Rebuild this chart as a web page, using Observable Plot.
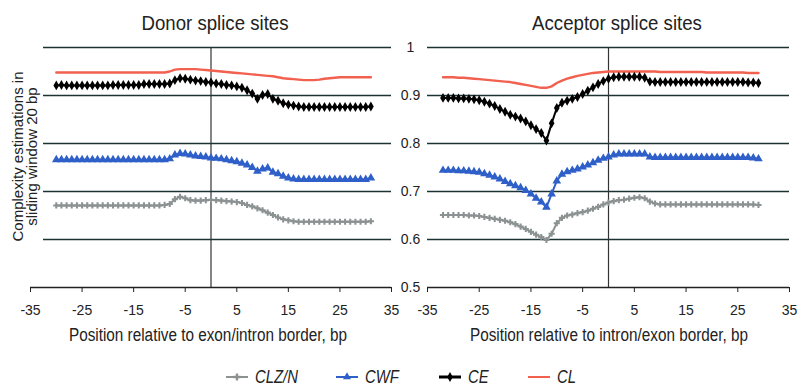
<!DOCTYPE html>
<html>
<head>
<meta charset="utf-8">
<script src="https://cdn.jsdelivr.net/npm/d3@7"></script>
<script src="https://cdn.jsdelivr.net/npm/@observablehq/plot@0.6"></script>
<style>
  html, body { margin: 0; padding: 0; background: #fff; }
  #wrap { position: relative; width: 798px; height: 387px; overflow: hidden; font-family: "Liberation Sans", Arial, sans-serif; color: #222; }
  .abs { position: absolute; }
  .title { font-size: 19.5px; line-height: 20px; text-align: center; width: 300px; transform: scaleX(0.955); white-space: nowrap; }
  .xlab { font-size: 18px; line-height: 20px; text-align: center; width: 360px; transform: scaleX(0.85); white-space: nowrap; }
  .ylab { font-size: 15px; line-height: 13.5px; text-align: center; width: 240px; transform: rotate(-90deg); white-space: nowrap; }
  .leg { line-height: 18px; display: flex; align-items: center; }
  .leg svg { margin-right: 7px; }
  .leg span { display: inline-block; font-size: 17.5px; font-style: italic; transform: scaleX(0.85); transform-origin: left center; }
</style>
</head>
<body>
<div id="wrap">
  <div class="abs title" style="left:65px; top:13px;">Donor splice sites</div>
  <div class="abs title" style="left:467px; top:13px;">Acceptor splice sites</div>
  <div class="abs xlab" style="left:28px; top:325px;">Position relative to exon/intron border, bp</div>
  <div class="abs xlab" style="left:429px; top:325px;">Position relative to intron/exon border, bp</div>
  <div class="abs ylab" style="left:-96px; top:142.5px;">Complexity estimations in<br>sliding window 20 bp</div>
  <div id="left" class="abs" style="left:0; top:0;"></div>
  <div id="right" class="abs" style="left:380px; top:0;"></div>
  <div id="legend"></div>
</div>
<script>
// ---------- data ----------
const seriesNames = ["CLZ/N", "CWF", "CE", "CL"];
const xTicks = [-35, -25, -15, -5, 5, 15, 25, 35];
const yTicks = [0.5, 0.6, 0.7, 0.8, 0.9, 1];
const gridValues = [0.6, 0.7, 0.8, 0.9, 1];

// Donor splice sites: positions -30..31
const donorPos = [-30,-29,-28,-27,-26,-25,-24,-23,-22,-21,-20,-19,-18,-17,-16,-15,-14,-13,-12,-11,-10,-9,-8,-7,-6,-5,-4,-3,-2,-1,0,1,2,3,4,5,6,7,8,9,10,11,12,13,14,15,16,17,18,19,20,21,22,23,24,25,26,27,28,29,30,31];
const donorCLZN = [0.671,0.671,0.671,0.671,0.671,0.671,0.671,0.671,0.671,0.671,0.671,0.671,0.671,0.671,0.671,0.671,0.671,0.671,0.671,0.671,0.671,0.672,0.674,0.684,0.689,0.686,0.682,0.681,0.681,0.682,0.683,0.682,0.681,0.680,0.679,0.678,0.676,0.672,0.669,0.665,0.661,0.656,0.651,0.646,0.642,0.640,0.638,0.637,0.637,0.637,0.637,0.637,0.637,0.637,0.637,0.637,0.637,0.637,0.637,0.637,0.637,0.638];
const donorCWF = [0.766,0.766,0.766,0.766,0.766,0.766,0.766,0.766,0.766,0.766,0.766,0.766,0.766,0.766,0.766,0.766,0.766,0.766,0.766,0.766,0.766,0.766,0.768,0.776,0.779,0.778,0.776,0.774,0.773,0.772,0.770,0.769,0.768,0.766,0.764,0.762,0.759,0.755,0.750,0.742,0.747,0.749,0.740,0.737,0.732,0.728,0.726,0.725,0.725,0.725,0.725,0.725,0.725,0.725,0.725,0.725,0.725,0.725,0.725,0.725,0.725,0.728];
const donorCE = [0.921,0.922,0.921,0.921,0.921,0.921,0.921,0.921,0.921,0.921,0.921,0.922,0.922,0.922,0.922,0.922,0.922,0.924,0.924,0.924,0.924,0.924,0.925,0.932,0.936,0.935,0.933,0.931,0.930,0.928,0.927,0.925,0.924,0.922,0.921,0.919,0.916,0.911,0.904,0.893,0.901,0.903,0.893,0.889,0.884,0.881,0.879,0.877,0.876,0.876,0.876,0.876,0.876,0.876,0.876,0.876,0.876,0.876,0.876,0.876,0.876,0.877];
const donorCL = [0.948,0.948,0.948,0.948,0.948,0.948,0.948,0.948,0.948,0.948,0.948,0.948,0.948,0.948,0.948,0.948,0.948,0.948,0.948,0.948,0.948,0.948,0.950,0.954,0.955,0.955,0.955,0.955,0.954,0.953,0.952,0.951,0.950,0.949,0.948,0.947,0.946,0.945,0.944,0.943,0.942,0.941,0.940,0.938,0.936,0.935,0.934,0.933,0.932,0.932,0.932,0.933,0.935,0.936,0.937,0.938,0.938,0.938,0.938,0.938,0.938,0.938];

// Acceptor splice sites: positions -32..29
const acceptorPos = [-32,-31,-30,-29,-28,-27,-26,-25,-24,-23,-22,-21,-20,-19,-18,-17,-16,-15,-14,-13,-12,-11,-10,-9,-8,-7,-6,-5,-4,-3,-2,-1,0,1,2,3,4,5,6,7,8,9,10,11,12,13,14,15,16,17,18,19,20,21,22,23,24,25,26,27,28,29];
const acceptorCLZN = [0.651,0.651,0.651,0.651,0.651,0.650,0.650,0.649,0.647,0.645,0.643,0.641,0.639,0.636,0.632,0.627,0.622,0.616,0.610,0.605,0.599,0.612,0.634,0.645,0.650,0.652,0.655,0.657,0.660,0.664,0.668,0.673,0.677,0.680,0.682,0.683,0.685,0.687,0.688,0.686,0.679,0.675,0.673,0.673,0.673,0.673,0.673,0.673,0.673,0.673,0.673,0.673,0.673,0.673,0.673,0.673,0.673,0.673,0.673,0.673,0.673,0.672];
const acceptorCWF = [0.744,0.744,0.744,0.743,0.743,0.742,0.741,0.740,0.737,0.734,0.730,0.726,0.721,0.716,0.712,0.708,0.702,0.695,0.686,0.678,0.667,0.695,0.722,0.736,0.741,0.744,0.747,0.751,0.755,0.760,0.765,0.769,0.772,0.776,0.778,0.778,0.778,0.778,0.778,0.778,0.772,0.771,0.771,0.771,0.771,0.771,0.771,0.771,0.771,0.771,0.771,0.771,0.771,0.771,0.771,0.771,0.771,0.771,0.771,0.771,0.770,0.768];
const acceptorCE = [0.895,0.895,0.895,0.894,0.894,0.893,0.892,0.890,0.887,0.883,0.878,0.872,0.866,0.860,0.856,0.852,0.846,0.838,0.830,0.822,0.806,0.842,0.874,0.885,0.889,0.893,0.897,0.903,0.910,0.917,0.924,0.930,0.935,0.938,0.939,0.939,0.939,0.939,0.939,0.937,0.929,0.928,0.928,0.928,0.928,0.928,0.928,0.928,0.928,0.928,0.928,0.928,0.928,0.928,0.928,0.928,0.928,0.928,0.928,0.927,0.927,0.926];
const acceptorCL = [0.938,0.938,0.938,0.937,0.937,0.936,0.935,0.934,0.933,0.932,0.931,0.930,0.929,0.928,0.926,0.924,0.922,0.920,0.918,0.916,0.916,0.919,0.926,0.931,0.935,0.938,0.941,0.943,0.945,0.947,0.948,0.949,0.950,0.950,0.950,0.950,0.950,0.950,0.950,0.950,0.950,0.950,0.949,0.949,0.949,0.949,0.949,0.949,0.949,0.949,0.949,0.948,0.948,0.948,0.948,0.948,0.948,0.948,0.948,0.947,0.947,0.947];

// ---------- style ----------
const colors = {"CLZ/N": "#8c9292", "CWF": "#2f5fc8", "CE": "#000000", "CL": "#f2604f"};
const symbols = {"CLZ/N": "cross", "CWF": "triangle", "CE": "diamond", "CL": null};
const fontFamily = '"Liberation Sans", Arial, sans-serif';

function rows(pos, arrays) {
  const out = [];
  seriesNames.forEach((s, k) => pos.forEach((p, i) => out.push({series: s, pos: p, value: arrays[k][i]})));
  return out;
}

function seriesMarks(data) {
  const marks = [];
  for (const s of ["CL", "CE", "CWF", "CLZ/N"]) {
    const d = data.filter(r => r.series === s);
    marks.push(Plot.line(d, {x: "pos", y: "value", stroke: colors[s], strokeWidth: s === "CL" ? 2.4 : 2}));
    if (symbols[s]) {
      marks.push(Plot.dot(d, {x: "pos", y: "value", symbol: symbols[s], fill: colors[s], stroke: "none",
        r: s === "CE" ? 3 : s === "CWF" ? 3.2 : 2.6}));
    }
  }
  return marks;
}

function panel({pos, arrays, width, marginLeft, gridInset, showY}) {
  const data = rows(pos, arrays);
  const marks = [
    Plot.ruleY(gridValues, {stroke: "#1c3333", strokeWidth: 1.4, insetLeft: gridInset}),
    Plot.ruleX([0], {stroke: "#333", strokeWidth: 1.2}),
    Plot.ruleY([0.5], {stroke: "#222", strokeWidth: 1.3}),
    Plot.axisX({ticks: xTicks, tickSize: 5, tickPadding: 13, tickFormat: d => String(d), fontSize: 14, label: null, stroke: "#222"}),
    ...seriesMarks(data)
  ];
  if (showY) {
    marks.push(Plot.axisY({ticks: yTicks, tickSize: 0, tickPadding: 17, textAnchor: "middle",
      tickFormat: d => String(+d.toFixed(1)), fontSize: 14, label: null}));
  }
  return Plot.plot({
    width, height: 330,
    marginLeft, marginRight: 9, marginTop: 47, marginBottom: 43,
    x: {domain: [-35, 35]},
    y: {domain: [0.5, 1], ...(showY ? {} : {axis: null})},
    style: {background: "transparent", overflow: "visible", fontFamily, fontSize: "14px", color: "#222"},
    marks
  });
}

document.getElementById("left").append(panel({
  pos: donorPos, arrays: [donorCLZN, donorCWF, donorCE, donorCL],
  width: 400, marginLeft: 30, gridInset: 13, showY: false
}));
document.getElementById("right").append(panel({
  pos: acceptorPos, arrays: [acceptorCLZN, acceptorCWF, acceptorCE, acceptorCL],
  width: 418, marginLeft: 47, gridInset: 0, showY: true
}));

// ---------- legend ----------
const legendLeft = {"CLZ/N": 226, "CWF": 336, "CE": 439, "CL": 528};
const legend = document.getElementById("legend");
for (const s of seriesNames) {
  const item = document.createElement("div");
  item.className = "abs leg";
  item.style.left = legendLeft[s] + "px";
  item.style.top = "368px";
  const sym = symbols[s];
  let marker = "";
  if (sym) {
    const path = d3.symbol(sym === "cross" ? d3.symbolCross : sym === "triangle" ? d3.symbolTriangle : d3.symbolDiamond, 28)();
    marker = `<path d="${path}" transform="translate(11,5)" fill="${colors[s]}"/>`;
  }
  item.innerHTML = `<svg width="22" height="10"><line x1="0" x2="22" y1="5" y2="5" stroke="${colors[s]}" stroke-width="${s === "CE" ? 3 : 2}"/>${marker}</svg><span>${s}</span>`;
  legend.append(item);
}
</script>
</body>
</html>
